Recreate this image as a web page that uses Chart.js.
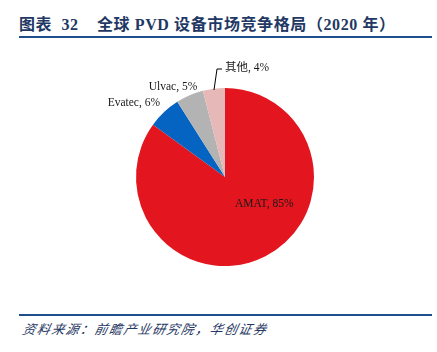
<!DOCTYPE html>
<html>
<head>
<meta charset="utf-8">
<script src="https://cdn.jsdelivr.net/npm/chart.js@4"></script>
<style>
body{margin:0;width:437px;height:352px;background:#fff;position:relative;overflow:hidden}
#titulo{position:absolute;left:19px;top:11px;font:bold 16px "Liberation Serif","Noto Sans CJK SC";color:#1f3864;white-space:pre;letter-spacing:0.6px}
#linea1{position:absolute;left:19px;top:36px;width:413px;height:2px;background:#1f4e8c}
#linea2{position:absolute;left:19px;top:314px;width:413px;height:2px;background:#1f4e8c}
#fuente{position:absolute;left:21px;top:319px;font:italic 13px "Noto Sans CJK SC";color:#1f3864;transform:skewX(-12deg);transform-origin:left bottom;letter-spacing:1.4px}
#caja{position:absolute;left:0;top:40px;width:437px;height:270px}
</style>
</head>
<body>
<div id="titulo">图表  32    全球 PVD 设备市场竞争格局（2020 年）</div>
<div id="linea1"></div>
<div id="caja"><canvas id="grafica"></canvas></div>
<div id="linea2"></div>
<div id="fuente">资料来源：前瞻产业研究院，华创证券</div>
<script>
const empresas = ["AMAT", "Evatec", "Ulvac", "其他"];
const cuotas = [85, 6, 5, 4];
const colores = ["#e3151e", "#0563c1", "#b3b3b3", "#e6b8b7"];

// posicion de cada etiqueta respecto al centro del pastel (dx, dy, alineacion)
const posEtiquetas = [
[10, 27, "left"],
[-65, -74, "right"],
[-52, -90, "center"],
[0, -109, "left"]
];

const etiquetas = {
id: "etiquetas",
afterDatasetsDraw(chart){
const ctx = chart.ctx;
const arco = chart.getDatasetMeta(0).data[0];
const cx = arco.x, cy = arco.y;
ctx.save();
ctx.font = "11.5px 'Liberation Serif', 'Noto Sans CJK SC'";
ctx.fillStyle = "#1a1a1a";
ctx.textBaseline = "middle";
empresas.forEach((e, i) => {
const p = posEtiquetas[i];
ctx.textAlign = p[2];
ctx.fillText(e + ", " + cuotas[i] + "%", cx + p[0], cy + p[1]);
});
// linea guia de "其他"
ctx.strokeStyle = "#000";
ctx.lineWidth = 1;
ctx.beginPath();
ctx.moveTo(cx - 11, cy - 87);
ctx.lineTo(cx - 8, cy - 108);
ctx.lineTo(cx - 3, cy - 108);
ctx.stroke();
ctx.restore();
}
};

new Chart(document.getElementById("grafica"), {
type: "pie",
data: {
labels: empresas,
datasets: [{
data: cuotas,
backgroundColor: colores,
borderWidth: 0
}]
},
options: {
responsive: true,
maintainAspectRatio: false,
animation: false,
layout: {padding: {left: 136, right: 123, top: 48, bottom: 44}},
plugins: {legend: {display: false}, tooltip: {enabled: false}}
},
plugins: [etiquetas]
});
</script>
</body>
</html>
